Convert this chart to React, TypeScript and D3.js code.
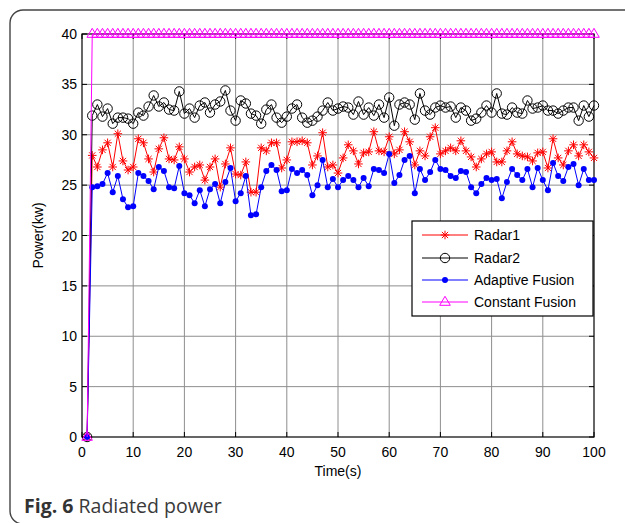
import React from 'react';
import * as d3 from 'd3';

// time axis (s), first sample is the zero start
const time = d3.range(1, 101);

const radar1 = [
  0, 27.95, 26.8, 28.5, 29.2, 26.8, 30.1, 27.4, 26.5, 26.8, 29.6,
  29.2, 27.6, 26.3, 28.6, 29.7, 27.6, 27.5, 28.8, 27.6, 26.3,
  26.8, 27.0, 25.5, 26.8, 27.6, 24.8, 27.1, 28.7, 26.1, 26.0,
  27.3, 24.3, 24.3, 28.7, 28.4, 29.2, 29.2, 26.7, 27.5, 29.3,
  29.3, 29.4, 29.2, 27.0, 27.9, 30.2, 26.8, 27.0, 26.2, 27.7,
  29.0, 28.4, 27.1, 28.2, 28.3, 30.3, 28.4, 28.3, 29.8, 28.1,
  28.5, 30.3, 29.3, 27.0, 28.4, 27.9, 29.8, 30.7, 28.1, 28.4,
  28.7, 28.4, 29.4, 28.4, 27.8, 26.8, 27.6, 28.1, 28.3, 27.3,
  27.3, 28.4, 29.3, 28.1, 27.9, 27.8, 27.4, 28.2, 28.3, 26.7,
  29.6, 27.7, 27.0, 28.4, 29.0, 27.9, 29.0, 28.3, 27.7,
];

const radar2 = [
  0, 31.9, 33.0, 31.8, 32.6, 31.1, 31.7, 31.7, 31.6, 31.1, 32.2,
  31.9, 32.8, 33.9, 32.8, 33.2, 32.5, 32.4, 34.3, 32.1, 32.6,
  31.7, 32.9, 33.2, 32.2, 33.0, 33.3, 34.4, 32.4, 31.4, 33.4,
  33.1, 32.1, 31.9, 31.1, 32.5, 33.0, 31.7, 31.2, 31.8, 32.6,
  33.0, 31.7, 31.2, 31.4, 31.8, 32.4, 33.2, 32.4, 32.6, 32.8,
  32.7, 32.0, 33.3, 32.0, 32.7, 31.9, 33.0, 31.7, 33.7, 30.9,
  33.0, 33.2, 33.0, 31.5, 34.1, 32.4, 32.0, 32.7, 32.9, 32.7,
  32.8, 31.7, 32.7, 32.4, 31.4, 31.6, 32.2, 32.9, 32.2, 34.1,
  32.1, 32.0, 32.7, 32.2, 32.1, 33.4, 32.6, 32.7, 32.9, 32.4,
  32.4, 32.1, 32.4, 32.7, 32.7, 31.4, 32.9, 31.8, 32.9,
];

const adaptive = [
  0, 24.8, 24.9, 25.1, 26.2, 24.3, 25.9, 23.6, 22.8, 22.9, 26.2,
  25.9, 25.4, 24.6, 26.8, 26.4, 24.8, 24.7, 26.9, 24.2, 24.0,
  23.2, 24.5, 22.9, 24.6, 25.1, 23.2, 25.3, 26.7, 23.4, 24.2,
  25.9, 22.0, 22.1, 24.8, 26.4, 27.0, 26.5, 24.4, 24.5, 26.6,
  26.2, 26.5, 26.0, 24.0, 25.0, 27.5, 24.8, 25.6, 24.8, 25.5,
  25.9, 25.5, 24.8, 25.7, 24.9, 26.6, 26.5, 26.2, 28.1, 25.2,
  26.0, 27.5, 27.9, 24.2, 26.6, 25.5, 26.3, 27.5, 26.6, 26.5,
  25.9, 25.7, 26.4, 26.3, 24.8, 24.2, 25.1, 25.7, 25.5, 25.6,
  23.7, 25.3, 26.6, 26.0, 25.5, 26.6, 24.8, 26.7, 25.5, 24.5,
  27.2, 25.9, 25.4, 26.8, 27.1, 25.0, 26.6, 25.5, 25.5,
];

const constant = [
  0, 40, 40, 40, 40, 40, 40, 40, 40, 40, 40,
  40, 40, 40, 40, 40, 40, 40, 40, 40, 40,
  40, 40, 40, 40, 40, 40, 40, 40, 40, 40,
  40, 40, 40, 40, 40, 40, 40, 40, 40, 40,
  40, 40, 40, 40, 40, 40, 40, 40, 40, 40,
  40, 40, 40, 40, 40, 40, 40, 40, 40, 40,
  40, 40, 40, 40, 40, 40, 40, 40, 40, 40,
  40, 40, 40, 40, 40, 40, 40, 40, 40, 40,
  40, 40, 40, 40, 40, 40, 40, 40, 40, 40,
  40, 40, 40, 40, 40, 40, 40, 40, 40,
];

const xTicks = [0, 10, 20, 30, 40, 50, 60, 70, 80, 90, 100];
const yTicks = [0, 5, 10, 15, 20, 25, 30, 35, 40];
const seriesNames = ['Radar1', 'Radar2', 'Adaptive Fusion', 'Constant Fusion'];

const W = 625;
const H = 523;
const plot = { left: 82, right: 594, top: 34, bottom: 437 };
const FONT = '"Liberation Sans", Arial, Helvetica, sans-serif';

const Marker = ({ kind, x, y, color }) => {
  if (kind === 'star') {
    const a = 4.3;
    const b = 3.1;
    return (
      <g stroke={color} strokeWidth={1}>
        <line x1={x - a} y1={y} x2={x + a} y2={y} />
        <line x1={x} y1={y - a} x2={x} y2={y + a} />
        <line x1={x - b} y1={y - b} x2={x + b} y2={y + b} />
        <line x1={x - b} y1={y + b} x2={x + b} y2={y - b} />
      </g>
    );
  }
  if (kind === 'circle') {
    return <circle cx={x} cy={y} r={4.7} fill="none" stroke={color} strokeWidth={1} />;
  }
  if (kind === 'dot') {
    return <circle cx={x} cy={y} r={3} fill={color} />;
  }
  return (
    <path
      d={`M${x},${y - 5.7}L${x + 5.3},${y + 3.3}L${x - 5.3},${y + 3.3}Z`}
      fill="none"
      stroke={color}
      strokeWidth={1}
    />
  );
};

export default function App() {
  const x = d3.scaleLinear().domain([0, 100]).range([plot.left, plot.right]);
  const y = d3.scaleLinear().domain([0, 40]).range([plot.bottom, plot.top]);

  const series = [
    { name: seriesNames[0], values: radar1, color: '#ff0000', kind: 'star' },
    { name: seriesNames[1], values: radar2, color: '#000000', kind: 'circle' },
    { name: seriesNames[2], values: adaptive, color: '#0000ff', kind: 'dot' },
    { name: seriesNames[3], values: constant, color: '#ff00ff', kind: 'tri' },
  ];

  const line = d3
    .line<number>()
    .x((_, i) => x(time[i]))
    .y((d) => y(d));

  const leg = { x: 412, y: 221, w: 181, h: 95 };
  const legRows = [235, 258, 280, 302];

  return (
    <svg
      width={W}
      height={H}
      style={{ position: 'absolute', left: 0, top: 0, background: '#fff' }}
      fontFamily={FONT}
    >
      <rect x={10} y={10} width={720} height={514} rx={13} fill="none" stroke="#444" strokeWidth={1.4} />

      {/* grid */}
      <g stroke="#8e8e8e" strokeWidth={1}>
        {xTicks.slice(1, -1).map((t) => (
          <line key={'gx' + t} x1={x(t)} x2={x(t)} y1={plot.top} y2={plot.bottom} />
        ))}
        {yTicks.slice(1, -1).map((t) => (
          <line key={'gy' + t} x1={plot.left} x2={plot.right} y1={y(t)} y2={y(t)} />
        ))}
      </g>

      {/* axes box */}
      <rect
        x={plot.left}
        y={plot.top}
        width={plot.right - plot.left}
        height={plot.bottom - plot.top}
        fill="none"
        stroke="#000"
        strokeWidth={1.2}
      />
      <g stroke="#000" strokeWidth={1}>
        {yTicks.map((t) => (
          <g key={'ty' + t}>
            <line x1={plot.left} x2={plot.left + 5} y1={y(t)} y2={y(t)} />
            <line x1={plot.right} x2={plot.right - 5} y1={y(t)} y2={y(t)} />
          </g>
        ))}
        {xTicks.map((t) => (
          <g key={'tx' + t}>
            <line x1={x(t)} x2={x(t)} y1={plot.bottom} y2={plot.bottom - 5} />
            <line x1={x(t)} x2={x(t)} y1={plot.top} y2={plot.top + 5} />
          </g>
        ))}
      </g>

      {/* tick labels */}
      <g fontSize={14} fill="#000">
        {yTicks.map((t) => (
          <text key={'ly' + t} x={plot.left - 5} y={y(t)} dy="0.36em" textAnchor="end">
            {t}
          </text>
        ))}
        {xTicks.map((t) => (
          <text key={'lx' + t} x={x(t)} y={457} textAnchor="middle">
            {t}
          </text>
        ))}
      </g>
      <text x={(plot.left + plot.right) / 2} y={476} textAnchor="middle" fontSize={14}>
        Time(s)
      </text>
      <text
        transform={`translate(43,${(plot.top + plot.bottom) / 2}) rotate(-90)`}
        textAnchor="middle"
        fontSize={14}
      >
        Power(kw)
      </text>

      {/* series */}
      {series.map((s) => (
        <g key={s.name}>
          <path d={line(s.values) || ''} fill="none" stroke={s.color} strokeWidth={1} />
          {s.values.map((v, i) => (
            <Marker key={i} kind={s.kind} x={x(time[i])} y={y(v)} color={s.color} />
          ))}
        </g>
      ))}

      {/* legend */}
      <rect x={leg.x} y={leg.y} width={leg.w} height={leg.h} fill="#fff" stroke="#000" strokeWidth={1.2} />
      {series.map((s, i) => (
        <g key={'leg' + s.name}>
          <line x1={422} x2={468} y1={legRows[i]} y2={legRows[i]} stroke={s.color} strokeWidth={1} />
          <Marker kind={s.kind} x={445} y={legRows[i]} color={s.color} />
          <text x={474} y={legRows[i]} dy="0.36em" fontSize={14}>
            {s.name}
          </text>
        </g>
      ))}

      {/* caption */}
      <text x={24} y={512.5} fontFamily='"Open Sans", "Noto Sans", sans-serif' fontSize={19.5} fill="#3a3a3a">
        <tspan fontWeight="bold" fill="#333">Fig. 6</tspan>
        <tspan> Radiated power</tspan>
      </text>
    </svg>
  );
}
